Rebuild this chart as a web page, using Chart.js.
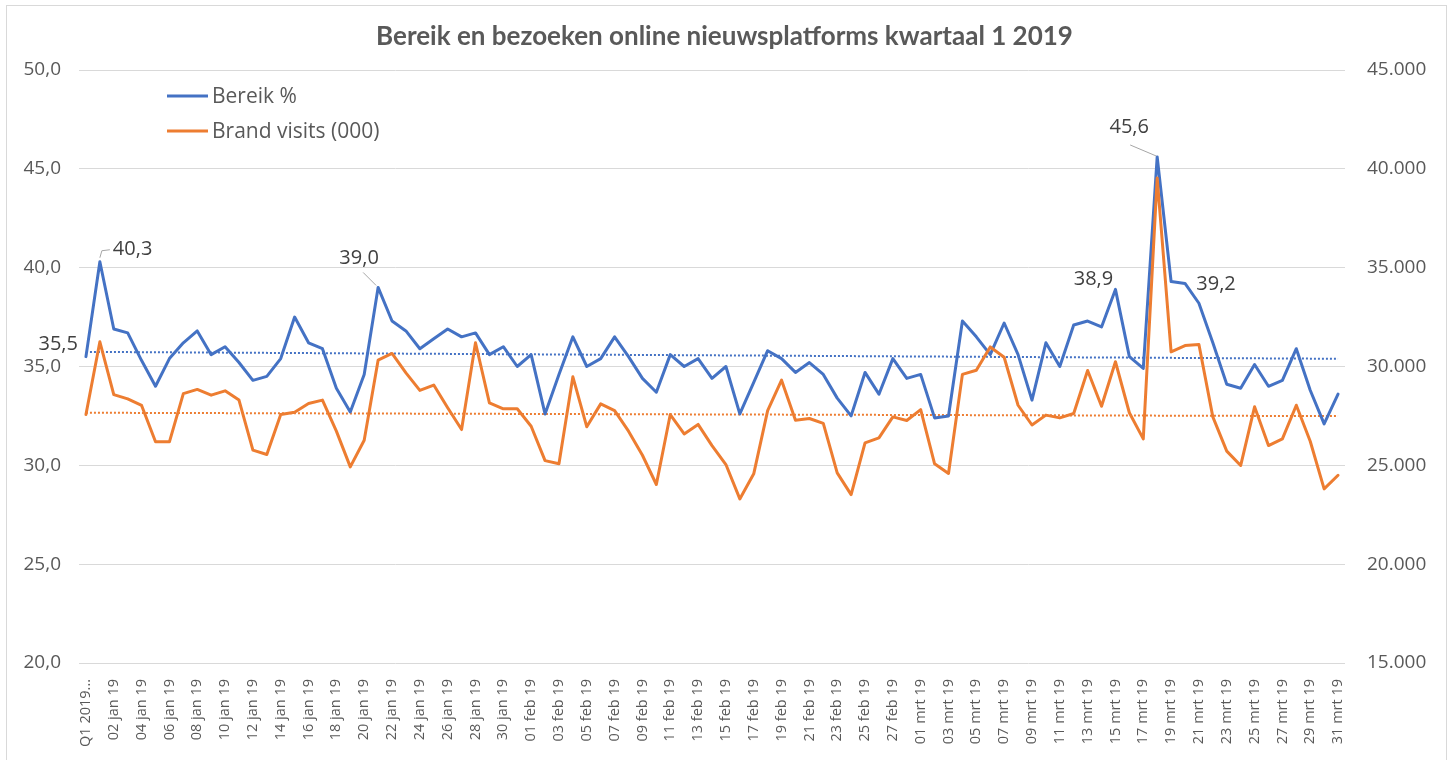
<!DOCTYPE html>
<html>
<head>
<meta charset="utf-8">
<script src="https://cdn.jsdelivr.net/npm/chart.js@4.4.1/dist/chart.umd.min.js"></script>
<style>
html,body{margin:0;padding:0;background:#ffffff;}
#wrap{position:relative;width:1449px;height:760px;overflow:hidden;background:#ffffff;}
#frame{position:absolute;left:6px;top:5px;width:1441px;height:820px;border:1px solid #D9D9D9;box-sizing:border-box;pointer-events:none;}
canvas{position:absolute;left:0;top:0;}
</style>
</head>
<body>
<div id="wrap"><canvas id="c" width="1449" height="760"></canvas><div id="frame"></div></div>
<script>
// ---- data ----
const categories = [
  "Q1 2019...",
  "01 jan 19","02 jan 19","03 jan 19","04 jan 19","05 jan 19","06 jan 19","07 jan 19","08 jan 19","09 jan 19","10 jan 19",
  "11 jan 19","12 jan 19","13 jan 19","14 jan 19","15 jan 19","16 jan 19","17 jan 19","18 jan 19","19 jan 19","20 jan 19",
  "21 jan 19","22 jan 19","23 jan 19","24 jan 19","25 jan 19","26 jan 19","27 jan 19","28 jan 19","29 jan 19","30 jan 19","31 jan 19",
  "01 feb 19","02 feb 19","03 feb 19","04 feb 19","05 feb 19","06 feb 19","07 feb 19","08 feb 19","09 feb 19","10 feb 19",
  "11 feb 19","12 feb 19","13 feb 19","14 feb 19","15 feb 19","16 feb 19","17 feb 19","18 feb 19","19 feb 19","20 feb 19",
  "21 feb 19","22 feb 19","23 feb 19","24 feb 19","25 feb 19","26 feb 19","27 feb 19","28 feb 19",
  "01 mrt 19","02 mrt 19","03 mrt 19","04 mrt 19","05 mrt 19","06 mrt 19","07 mrt 19","08 mrt 19","09 mrt 19","10 mrt 19",
  "11 mrt 19","12 mrt 19","13 mrt 19","14 mrt 19","15 mrt 19","16 mrt 19","17 mrt 19","18 mrt 19","19 mrt 19","20 mrt 19",
  "21 mrt 19","22 mrt 19","23 mrt 19","24 mrt 19","25 mrt 19","26 mrt 19","27 mrt 19","28 mrt 19","29 mrt 19","30 mrt 19","31 mrt 19"
];

const bereik = [
  35.5, 40.3, 36.9, 36.7, 35.3, 34.0, 35.4, 36.2, 36.8, 35.6, 36.0, 35.2, 34.3, 34.5, 35.4, 37.5, 36.2, 35.9, 33.9, 32.7, 34.6, 39.0, 37.3,
  36.8, 35.9, 36.4, 36.9, 36.5, 36.7, 35.6, 36.0, 35.0, 35.6, 32.6, 34.6, 36.5, 35.0, 35.4, 36.5, 35.5, 34.4, 33.7, 35.6, 35.0, 35.4, 34.4,
  35.0, 32.6, 34.2, 35.8, 35.4, 34.7, 35.2, 34.6, 33.4, 32.5, 34.7, 33.6, 35.4, 34.4, 34.6, 32.4, 32.5, 37.3, 36.5, 35.6, 37.2, 35.6, 33.3,
  36.2, 35.0, 37.1, 37.3, 37.0, 38.9, 35.5, 34.9, 45.6, 39.3, 39.2, 38.2, 36.2, 34.1, 33.9, 35.1, 34.0, 34.3, 35.9, 33.8, 32.1, 33.6
];

const brandVisits = [
  27570, 31250, 28580, 28360, 28030, 26190, 26190, 28630, 28840, 28550, 28770, 28300, 25770, 25550, 27570, 27690, 28130, 28300, 26730, 24920, 26270, 30320, 30660,
  29680, 28790, 29060, 27910, 26810, 31200, 28160, 27860, 27860, 26980, 25240, 25080, 29480, 26950, 28110, 27770, 26730, 25510, 24030, 27570, 26590, 27070, 26000,
  25040, 23300, 24570, 27770, 29310, 27280, 27370, 27120, 24620, 23520, 26140, 26390, 27450, 27270, 27820, 25080, 24590, 29600, 29810, 30990, 30470, 28040, 27040,
  27540, 27400, 27620, 29800, 27990, 30240, 27660, 26340, 39540, 30740, 31060, 31110, 27450, 25720, 24990, 27960, 26000, 26340, 28040, 26220, 23810, 24500
];

// linear trendline end values (first and last category)
const trendBereik = [35.74, 35.39];
const trendVisits = [27660, 27490];

const seriesNames = ["Bereik %", "Brand visits (000)"];
const seriesColors = ["#4472C4", "#ED7D31"];
const labelledPoints = [0, 1, 21, 74, 77, 79];

const leftAxisRange = [20, 50, 5];
const rightAxisRange = [15000, 45000, 5000];

const chartTitle = "Bereik en bezoeken online nieuwsplatforms kwartaal 1 2019";

// ---- presentation ----
const FONT = "'Open Sans', 'Noto Sans', sans-serif";
const TEXT = "#595959";

const fmtPct = v => v.toFixed(1).replace(".", ",");
const fmtThousands = v => String(Math.round(v)).replace(/\B(?=(\d{3})+(?!\d))/g, ".");

// offsets of the data labels relative to their points (style, not data)
const labelStyle = {
  0:  {dx: -8,  dy: -12, align: "right"},
  1:  {dx: 13,  dy: -12, align: "left",   leader: [[0, -4], [2, -11], [10, -12]]},
  21: {dx: -19, dy: -29, align: "center", leader: [[-15, -15], [-2, -2]]},
  74: {dx: -22, dy: -10, align: "center"},
  77: {dx: -28, dy: -30, align: "center", leader: [[-27, -12], [-1, -1]]},
  79: {dx: 31,  dy: 1,   align: "center"}
};

const overlayPlugin = {
  id: "overlay",
  afterDatasetsDraw(chart) {
    const ctx = chart.ctx;
    const meta = chart.getDatasetMeta(0);
    ctx.save();
    ctx.font = "20px " + FONT;
    ctx.fillStyle = "#404040";
    ctx.textBaseline = "middle";
    labelledPoints.forEach(i => {
      const el = meta.data[i];
      const st = labelStyle[i];
      if (!el || !st) return;
      if (st.leader) {
        ctx.strokeStyle = "#A6A6A6";
        ctx.lineWidth = 1;
        ctx.beginPath();
        st.leader.forEach((p, k) => {
          const px = el.x + p[0], py = el.y + p[1];
          if (k === 0) ctx.moveTo(px, py); else ctx.lineTo(px, py);
        });
        ctx.stroke();
      }
      ctx.textAlign = st.align;
      ctx.fillText(fmtPct(bereik[i]), el.x + st.dx, el.y + st.dy);
    });
    ctx.restore();
  },
  afterDraw(chart) {
    const ctx = chart.ctx;
    const a = chart.chartArea;
    const x0 = a.left + 88;
    ctx.save();
    ctx.font = "21px " + FONT;
    ctx.fillStyle = TEXT;
    ctx.textBaseline = "middle";
    ctx.textAlign = "left";
    seriesNames.forEach((name, k) => {
      const y = a.top + 26 + k * 35;
      ctx.strokeStyle = seriesColors[k];
      ctx.lineWidth = 3;
      ctx.beginPath();
      ctx.moveTo(x0, y);
      ctx.lineTo(x0 + 41, y);
      ctx.stroke();
      ctx.fillText(name, x0 + 45, y + 1);
    });
    ctx.restore();
  }
};

const lineCommon = {
  pointRadius: 0,
  pointHoverRadius: 0,
  tension: 0,
  borderWidth: 3,
  borderJoinStyle: "round",
  borderCapStyle: "round",
  fill: false
};

const last = categories.length - 1;

new Chart(document.getElementById("c"), {
  type: "line",
  data: {
    labels: categories,
    datasets: [
      Object.assign({}, lineCommon, {
        label: seriesNames[0], data: bereik, borderColor: seriesColors[0], backgroundColor: seriesColors[0],
        yAxisID: "y", order: 1
      }),
      Object.assign({}, lineCommon, {
        label: seriesNames[1], data: brandVisits, borderColor: seriesColors[1], backgroundColor: seriesColors[1],
        yAxisID: "y2", order: 0
      }),
      Object.assign({}, lineCommon, {
        label: "Trend " + seriesNames[0],
        data: [{x: categories[0], y: trendBereik[0]}, {x: categories[last], y: trendBereik[1]}],
        borderColor: seriesColors[0], borderWidth: 2, borderDash: [2, 2], borderCapStyle: "butt",
        yAxisID: "y", order: 2
      }),
      Object.assign({}, lineCommon, {
        label: "Trend " + seriesNames[1],
        data: [{x: categories[0], y: trendVisits[0]}, {x: categories[last], y: trendVisits[1]}],
        borderColor: seriesColors[1], borderWidth: 2, borderDash: [2, 2], borderCapStyle: "butt",
        yAxisID: "y2", order: 2
      })
    ]
  },
  options: {
    responsive: false,
    devicePixelRatio: 1,
    animation: false,
    events: [],
    layout: {padding: {left: 0, right: 0, top: 0, bottom: 0}},
    plugins: {
      legend: {display: false},
      tooltip: {enabled: false},
      title: {
        display: true,
        text: chartTitle,
        color: TEXT,
        font: {family: "Lato, 'Open Sans', sans-serif", size: 26, weight: "bold"},
        padding: {top: 21.4, bottom: 17.4}
      }
    },
    scales: {
      x: {
        type: "category",
        offset: true,
        grid: {display: false},
        border: {display: false},
        ticks: {
          autoSkip: false,
          maxRotation: 90,
          minRotation: 90,
          padding: 8,
          color: TEXT,
          font: {family: FONT, size: 14.5},
          callback: function (v, i) { return i % 2 === 0 ? this.getLabelForValue(v) : ""; }
        },
        afterFit: s => { s.height = 97; }
      },
      y: {
        position: "left",
        min: leftAxisRange[0], max: leftAxisRange[1],
        grid: {color: "#D9D9D9", lineWidth: 1, drawTicks: false},
        border: {display: false},
        ticks: {
          stepSize: leftAxisRange[2],
          padding: 18,
          color: TEXT,
          font: {family: FONT, size: 19},
          callback: v => fmtPct(v)
        },
        afterFit: s => { s.width = 79; }
      },
      y2: {
        position: "right",
        min: rightAxisRange[0], max: rightAxisRange[1],
        grid: {display: false, drawTicks: false},
        border: {display: false},
        ticks: {
          stepSize: rightAxisRange[2],
          padding: 22,
          color: TEXT,
          font: {family: FONT, size: 19},
          callback: v => fmtThousands(v)
        },
        afterFit: s => { s.width = 104; }
      }
    }
  },
  plugins: [overlayPlugin]
});
</script>
</body>
</html>
